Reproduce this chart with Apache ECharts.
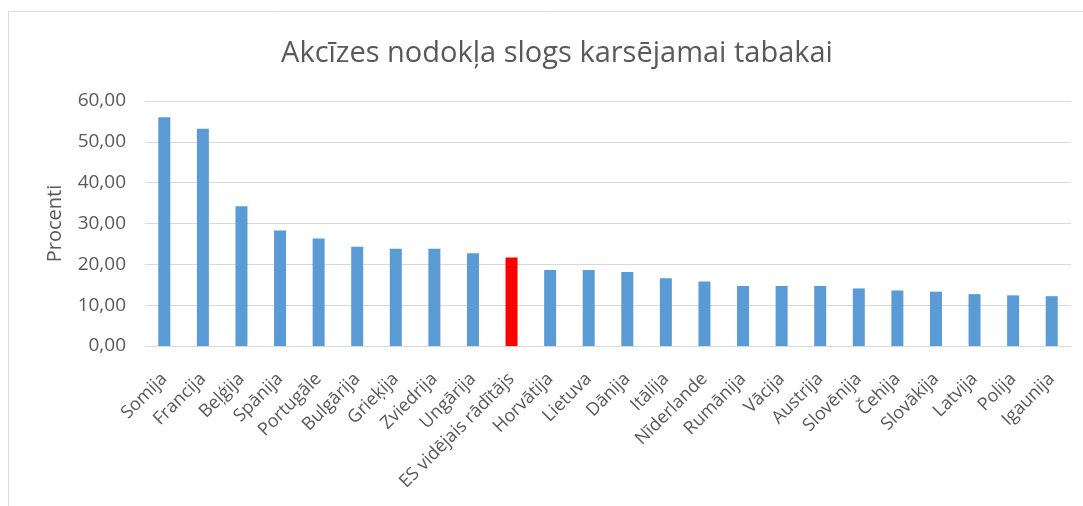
<!DOCTYPE html>
<html>
<head>
<meta charset="utf-8">
<script src="https://cdn.jsdelivr.net/npm/echarts@6/dist/echarts.min.js"></script>
<style>
    html, body { margin: 0; padding: 0; background: #fff; }
    #chart { width: 1083px; height: 506px; }
</style>
</head>
<body>
<div id="chart"></div>
<script>
// valstis un likmes (procenti)
const countries = ['Somija', 'Francija', 'Beļģija', 'Spānija', 'Portugāle', 'Bulgārija', 'Grieķija', 'Zviedrija', 'Ungārija',
    'ES vidējais rādītājs', 'Horvātija', 'Lietuva', 'Dānija', 'Itālija', 'Nīderlande', 'Rumānija', 'Vācija', 'Austrija',
    'Slovēnija', 'Čehija', 'Slovākija', 'Latvija', 'Polija', 'Igaunija']
const rates = [56.0, 53.2, 34.2, 28.3, 26.3, 24.3, 23.8, 23.8, 22.7, 21.7, 18.6, 18.6, 18.1, 16.6, 15.8, 14.7, 14.7, 14.7,
    14.1, 13.6, 13.3, 12.7, 12.4, 12.2]
const averageName = 'ES vidējais rādītājs'
const yTicks = [0, 10, 20, 30, 40, 50, 60]

const blue = '#5B9BD5'
const red = '#FF0000'
const textColor = '#595959'
const font = '"Open Sans", "Noto Sans", sans-serif'

let myChart = echarts.init(document.getElementById('chart'))
const option = {
    backgroundColor: '#fff',
    animation: false,
    graphic: [
        {
            type: 'rect',
            shape: { x: 8.5, y: 11.5, width: 1100, height: 520 },
            style: { fill: 'none', stroke: '#d9d9d9', lineWidth: 1 },
            silent: true
        }
    ],
    title: {
        text: 'Akcīzes nodokļa slogs karsējamai tabakai',
        left: 552,
        textAlign: 'center',
        top: 34,
        textStyle: {
            color: textColor,
            fontFamily: font,
            fontWeight: 'normal',
            fontSize: 29
        }
    },
    grid: {
        left: 145,
        right: 12,
        top: 101,
        bottom: 160
    },
    xAxis: {
        type: 'category',
        data: countries,
        axisLine: { lineStyle: { color: '#d9d9d9', width: 1 } },
        axisTick: { show: false },
        axisLabel: {
            interval: 0,
            rotate: 45,
            color: textColor,
            fontFamily: font,
            fontSize: 18,
            margin: 30
        }
    },
    yAxis: {
        type: 'value',
        min: yTicks[0],
        max: yTicks[yTicks.length - 1],
        interval: 10,
        name: 'Procenti',
        nameLocation: 'middle',
        nameRotate: 90,
        nameGap: 80,
        nameTextStyle: {
            color: textColor,
            fontFamily: font,
            fontSize: 20
        },
        axisLine: { show: false },
        axisTick: { show: false },
        axisLabel: {
            color: textColor,
            fontFamily: font,
            fontSize: 19,
            margin: 19,
            formatter: v => v.toFixed(2).replace('.', ',')
        },
        splitLine: { lineStyle: { color: '#d9d9d9', width: 1 } }
    },
    series: [
        {
            type: 'bar',
            barWidth: 12,
            data: rates.map((v, i) => ({
                value: v,
                itemStyle: { color: countries[i] === averageName ? red : blue }
            }))
        }
    ]
}
myChart.setOption(option)
</script>
</body>
</html>
